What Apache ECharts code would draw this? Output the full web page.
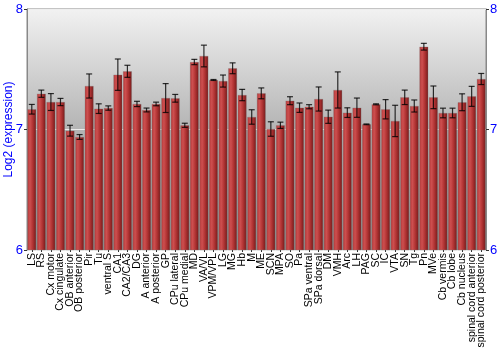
<!DOCTYPE html>
<html><head><meta charset="utf-8">
<script src="https://cdn.jsdelivr.net/npm/echarts@6/dist/echarts.min.js"></script>
<style>html,body{margin:0;padding:0;background:#fff}#c{width:500px;height:350px}</style>
</head><body><div id="c"></div>
<script>
const categories = ["LS","RS","Cx motor","Cx cingulate","OB anterior","OB posterior","Pir","Tu","ventral S","CA1","CA2/CA3","DG","A anterior","A posterior","GP","CPu lateral","CPu medial","MD","VA/VL","VPM/VPL","LG","MG","Hb","M","ME","SCN","MPA","SO","Pa","SPa ventral","SPa dorsal","DM","VMH","Arc","LH","PAG","SC","IC","VTA","SN","Tg","Pn","MVe","Cb vermis","Cb lobe","Cb nucleus","spinal cord anterior","spinal cord posterior"];
const values = [7.168,7.297,7.228,7.228,6.99,6.938,7.361,7.173,7.178,7.455,7.483,7.212,7.162,7.212,7.261,7.259,7.035,7.56,7.61,7.411,7.402,7.508,7.286,7.104,7.30,7.004,7.035,7.239,7.181,7.189,7.253,7.106,7.328,7.14,7.181,7.043,7.209,7.168,7.071,7.267,7.195,7.687,7.267,7.137,7.137,7.226,7.275,7.419];
const errors = [0.04,0.03,0.07,0.03,0.045,0.02,0.1,0.04,0.018,0.13,0.05,0.022,0.016,0.015,0.12,0.032,0.017,0.022,0.09,0.004,0.05,0.045,0.047,0.06,0.045,0.06,0.026,0.033,0.039,0.017,0.1,0.055,0.15,0.04,0.08,0.003,0.004,0.08,0.13,0.06,0.05,0.028,0.094,0.04,0.04,0.07,0.083,0.046];
const yTicks = [6,7,8];

const errData = values.map((v,i)=>[i, v-errors[i], v+errors[i]]);
const chart = echarts.init(document.getElementById('c'), null, {renderer:'canvas'});
const font = 'Liberation Sans, Arial, sans-serif';
chart.setOption({
  animation:false,
  grid:{left:27,right:14,top:9,bottom:100,containLabel:false,outerBoundsMode:'none',show:true,borderColor:'#888',borderWidth:1,
    backgroundColor:{type:'linear',x:0,y:0,x2:0,y2:1,colorStops:[{offset:0,color:'#f2f2f2'},{offset:0.5,color:'#b4b4b4'},{offset:1,color:'#8c8c8c'}]}},
  xAxis:{type:'category',data:categories,
    axisLine:{show:false},axisTick:{show:true,alignWithLabel:true,length:2,lineStyle:{color:'#333'}},
    axisLabel:{rotate:90,interval:0,fontFamily:font,fontSize:10.5,color:'#000',margin:3}},
  yAxis:[
    {type:'value',min:6,max:8,interval:1,position:'left',
      name:'Log2 (expression)',nameLocation:'middle',nameGap:12,nameMoveOverlap:false,
      nameTextStyle:{color:'#0000ff',fontFamily:font,fontSize:12},
      axisLine:{show:true,lineStyle:{color:'#888'}},axisTick:{show:true,length:3,lineStyle:{color:'#333'}},
      axisLabel:{color:'#0000ff',fontFamily:font,fontSize:13,margin:4,formatter:v=>yTicks.includes(v)?String(v):''},
      splitLine:{show:true,lineStyle:{color:'rgba(255,255,255,0.75)',width:1}}},
    {type:'value',min:6,max:8,interval:1,position:'right',
      axisLine:{show:true,lineStyle:{color:'#888'}},axisTick:{show:true,length:3,lineStyle:{color:'#333'}},
      axisLabel:{color:'#0000ff',fontFamily:font,fontSize:13,margin:4},
      splitLine:{show:false}}
  ],
  series:[
    {type:'bar',data:values,barCategoryGap:'8%',
      itemStyle:{borderColor:'rgba(120,120,120,0.6)',borderWidth:0.5,
        color:{type:'linear',x:0,y:0,x2:1,y2:0,colorStops:[{offset:0,color:'#b53838'},{offset:0.3,color:'#cd4f4f'},{offset:0.6,color:'#b23434'},{offset:1,color:'#741a1a'}]}}},
    {type:'custom',data:errData,z:10,
      renderItem:function(params,api){
        const x=api.value(0);
        const lo=api.coord([x,api.value(1)]);
        const hi=api.coord([x,api.value(2)]);
        const cx=lo[0], hw=3;
        const st={stroke:'rgba(0,0,0,0.8)',lineWidth:1.2};
        return {type:'group',children:[
          {type:'line',shape:{x1:cx,y1:hi[1],x2:cx,y2:lo[1]},style:st},
          {type:'line',shape:{x1:cx-hw,y1:hi[1],x2:cx+hw,y2:hi[1]},style:st},
          {type:'line',shape:{x1:cx-hw,y1:lo[1],x2:cx+hw,y2:lo[1]},style:st}
        ]};
      }}
  ]
});
</script></body></html>
